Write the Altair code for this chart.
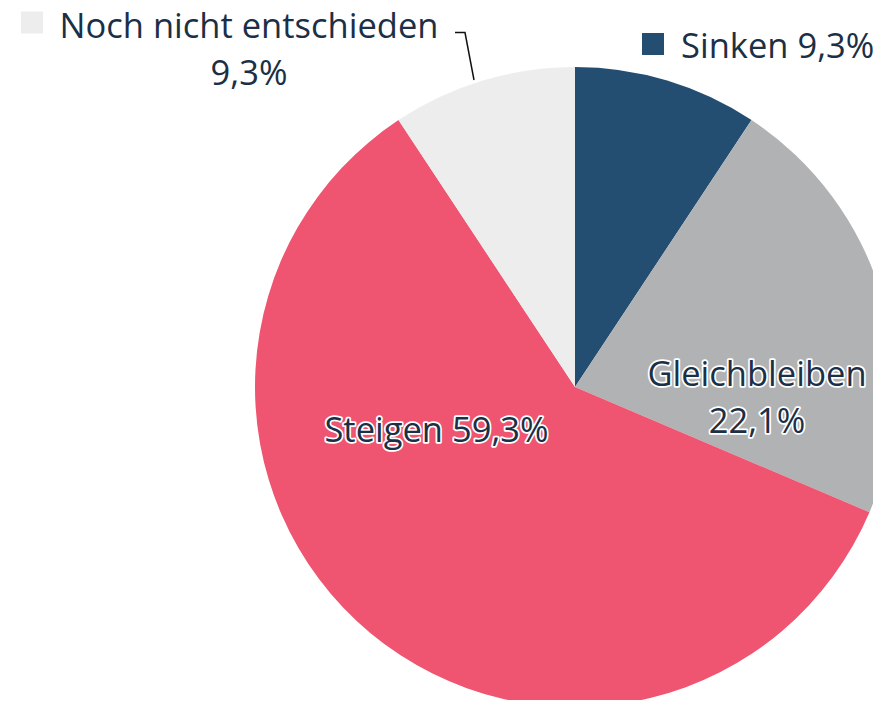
import altair as alt
import pandas as pd

# Data
categories = ["Sinken", "Gleichbleiben", "Steigen", "Noch nicht entschieden"]
values = [9.3, 22.1, 59.3, 9.3]
labels = ["9,3%", "22,1%", "59,3%", "9,3%"]
colors = ["#234e71", "#b1b2b4", "#ef5470", "#ededed"]

df = pd.DataFrame({"cat": categories, "value": values, "idx": list(range(len(categories)))})

FONT = "Open Sans"
TXT = "#1b2f46"
FS = 34.5
LH = 47
CX, CY, R = 567, 379, 320

one = pd.DataFrame({"a": [0]})

pie = alt.Chart(df).mark_arc(outerRadius=R).encode(
    theta=alt.Theta("value:Q", stack=True),
    color=alt.Color("cat:N", scale=alt.Scale(domain=categories, range=colors), legend=None),
    order=alt.Order("idx:Q"),
    x=alt.value(CX),
    y=alt.value(CY),
)


def txt(lines, x, y, align="center", halo=False):
    layers = []
    if halo:
        layers.append(alt.Chart(one).mark_text(
            text=lines, font=FONT, fontSize=FS, align=align, baseline="alphabetic",
            lineHeight=LH, stroke="white", strokeWidth=3.5, strokeJoin="round", fill="white",
        ).encode(x=alt.value(x), y=alt.value(y)))
    layers.append(alt.Chart(one).mark_text(
        text=lines, font=FONT, fontSize=FS, align=align, baseline="alphabetic",
        lineHeight=LH, fill=TXT,
    ).encode(x=alt.value(x), y=alt.value(y)))
    return layers


layers = [pie]
layers += txt([categories[1], labels[1]], 749, 378, halo=True)
layers += txt(f"{categories[2]} {labels[2]}", 428.5, 434, halo=True)
layers += txt([categories[3], labels[3]], 241, 30)
layers += txt(f"{categories[0]} {labels[0]}", 673, 50, align="left")

m1 = alt.Chart(one).mark_square(size=484, opacity=1, fill=colors[3]).encode(
    x=alt.value(24), y=alt.value(14.5))
m2 = alt.Chart(one).mark_square(size=484, opacity=1, fill=colors[0]).encode(
    x=alt.value(645), y=alt.value(36))
layers += [m1, m2]

leader = pd.DataFrame({"px": [447, 457, 466], "py": [24.5, 24.5, 72], "o": [0, 1, 2]})
lead = alt.Chart(leader).mark_line(color="#111111", strokeWidth=1.5).encode(
    x=alt.X("px:Q", scale=None),
    y=alt.Y("py:Q", scale=None),
    order="o:Q",
)
layers.append(lead)

chart = alt.layer(*layers).properties(
    width=865, height=692, padding=0,
    autosize=alt.AutoSizeParams(type="none"),
).configure_view(stroke=None)

chart.save("out.html", embed_options={"renderer": "svg", "actions": False})
